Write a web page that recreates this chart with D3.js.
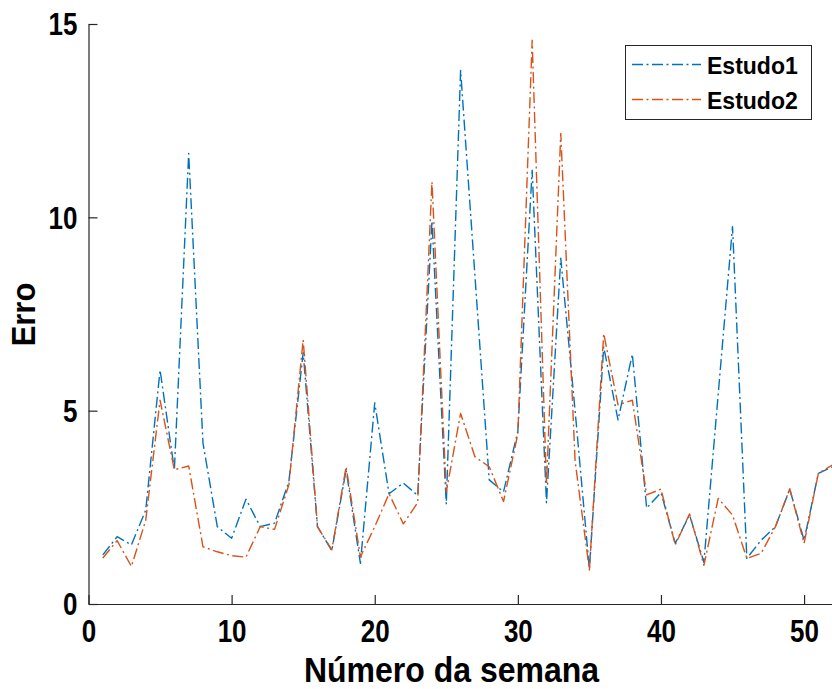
<!DOCTYPE html>
<html>
<head>
<meta charset="utf-8">
<script src="https://cdn.jsdelivr.net/npm/d3@7"></script>
<style>
  html, body { margin: 0; padding: 0; background: #fff; }
  svg { display: block; }
  text { font-family: "Liberation Sans", Arial, Helvetica, sans-serif; font-weight: bold; fill: #000; }
</style>
</head>
<body>
<svg id="chart" width="832" height="689"></svg>
<script>
// Week numbers on the horizontal axis
const weeks = [1, 2, 3, 4, 5, 6, 7, 8, 9, 10, 11, 12, 13, 14, 15, 16, 17, 18, 19, 20,
  21, 22, 23, 24, 25, 26, 27, 28, 29, 30, 31, 32, 33, 34, 35, 36, 37, 38, 39, 40,
  41, 42, 43, 44, 45, 46, 47, 48, 49, 50, 51, 52];

// Error per week, study 1
const estudo1 = [1.27, 1.74, 1.53, 2.43, 6.05, 3.47, 11.65, 4.16, 2.0, 1.7,
  2.71, 2.0, 2.09, 3.16, 6.5, 2.0, 1.38, 3.47, 1.05, 5.2,
  2.85, 3.13, 2.81, 9.9, 2.58, 13.8, 8.5, 3.21, 2.9, 4.47,
  11.22, 2.62, 8.94, 5.0, 0.9, 6.65, 4.76, 6.46, 2.48, 2.88,
  1.57, 2.3, 1.08, 5.43, 9.76, 1.18, 1.65, 2.0, 2.97, 1.65,
  3.38, 3.55];

// Error per week, study 2
const estudo2 = [1.19, 1.64, 0.97, 2.17, 5.27, 3.47, 3.57, 1.48, 1.35, 1.25,
  1.21, 2.0, 1.93, 3.08, 6.83, 2.0, 1.4, 3.55, 1.22, 2.0,
  2.85, 2.07, 2.62, 10.92, 2.9, 4.93, 3.81, 3.55, 2.65, 4.4,
  14.58, 3.1, 12.17, 3.7, 0.88, 6.99, 5.15, 5.27, 2.82, 2.97,
  1.53, 2.33, 1.0, 2.73, 2.3, 1.18, 1.31, 2.0, 2.98, 1.57,
  3.38, 3.6];

const seriesNames = ["Estudo1", "Estudo2"];
const seriesColors = ["#0072BD", "#D95319"];
const xTicks = [0, 10, 20, 30, 40, 50];
const yTicks = [0, 5, 10, 15];
const xTitle = "Número da semana";
const yTitle = "Erro";

const svg = d3.select("#chart");
const axisColor = "#262626";
const dashDot = "11,3.5,2,3.5";

const x = d3.scaleLinear().domain([0, 52]).range([88.5, 832.7]);
const y = d3.scaleLinear().domain([0, 15]).range([604, 24]);

// Lines, clipped to the plotting area
svg.append("clipPath").attr("id", "plotclip")
  .append("rect").attr("x", 88.5).attr("y", 0).attr("width", 760).attr("height", 605);

const line = d3.line().x((d, i) => x(weeks[i])).y(d => y(d));
const plot = svg.append("g").attr("clip-path", "url(#plotclip)");
[estudo1, estudo2].forEach((vals, k) => {
  plot.append("path")
    .datum(vals)
    .attr("d", line)
    .attr("fill", "none")
    .attr("stroke", seriesColors[k])
    .attr("stroke-width", 1.4)
    .attr("stroke-dasharray", dashDot)
    .attr("stroke-linejoin", "round");
});

// Axes with inward ticks; tick labels use a slightly tall lettering
const xAxis = d3.axisBottom(x).tickValues(xTicks).tickSizeInner(-9).tickSizeOuter(0).tickPadding(13);
const yAxis = d3.axisLeft(y).tickValues(yTicks).tickSizeInner(-9).tickSizeOuter(0).tickPadding(11);

const gx = svg.append("g").attr("transform", "translate(0,604)").call(xAxis);
const gy = svg.append("g").attr("transform", "translate(88.5,0)").call(yAxis);
[gx, gy].forEach(g => {
  g.select(".domain").attr("stroke", axisColor).attr("stroke-width", 1.2);
  g.selectAll(".tick line").attr("stroke", axisColor).attr("stroke-width", 1.2);
  g.selectAll(".tick text").attr("font-size", 26).attr("font-weight", "bold")
    .attr("font-family", "'Liberation Sans', Arial, sans-serif").attr("fill", "#262626")
    .attr("transform", "scale(1,1.2)");
});
gy.selectAll(".tick text").attr("dy", "0.35em");

// Axis titles
svg.append("text")
  .attr("transform", "translate(451.5,681.5) scale(1,1.1)")
  .attr("text-anchor", "middle")
  .attr("font-size", 32)
  .attr("fill", "#262626")
  .text(xTitle);

svg.append("text")
  .attr("transform", "translate(35,314.5) rotate(-90) scale(1,1.08)")
  .attr("text-anchor", "middle")
  .attr("font-size", 31)
  .attr("fill", "#262626")
  .text(yTitle);

// Legend
const legend = svg.append("g");
legend.append("rect")
  .attr("x", 625.5).attr("y", 45.5).attr("width", 186).attr("height", 74)
  .attr("fill", "#fff").attr("stroke", "#262626").attr("stroke-width", 1);
seriesNames.forEach((name, k) => {
  const ly = 64.5 + k * 35;
  legend.append("line")
    .attr("x1", 632).attr("x2", 701).attr("y1", ly).attr("y2", ly)
    .attr("stroke", seriesColors[k]).attr("stroke-width", 1.4)
    .attr("stroke-dasharray", dashDot);
  legend.append("text")
    .attr("x", 707).attr("y", ly + 9)
    .attr("font-size", 23)
    .text(name);
});
</script>
</body>
</html>
